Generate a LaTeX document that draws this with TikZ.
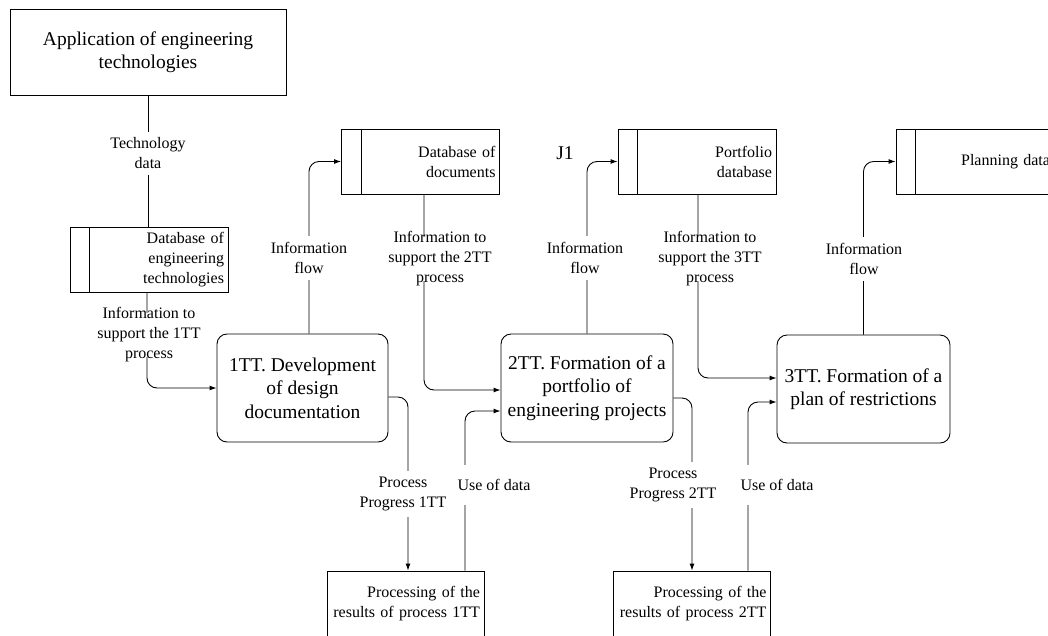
\documentclass[tikz,border=0pt]{standalone}
\usepackage{fontspec}
\setmainfont{Liberation Serif}
\usetikzlibrary{arrows.meta}
\begin{document}
\begin{tikzpicture}[x=1pt,y=-1pt,
  big/.style={font=\fontsize{19.5}{23.5}\selectfont},
  small/.style={font=\fontsize{16}{20}\selectfont},
  plainbox/.style={draw, line width=0.9pt, inner sep=0pt},
  procbox/.style={draw, line width=0.9pt, rounded corners=10pt, inner sep=0pt, align=center, big, minimum height=108pt},
  dbbox/.style={draw, line width=0.9pt, inner sep=0pt, small, align=right, text width=150pt, minimum width=158pt, minimum height=65pt,
    path picture={\draw[line width=0.9pt] ([xshift=19.5pt]path picture bounding box.north west) -- ([xshift=19.5pt]path picture bounding box.south west);}},
  resbox/.style={plainbox, small, align=right, text width=149pt, minimum width=157pt, minimum height=65pt},
  conn/.style={line width=0.9pt, rounded corners=10pt},
  arr/.style={conn, -{Latex[length=7pt,width=5pt]}},
  lab/.style={small, align=center, fill=white, inner xsep=1pt},
  labone/.style={lab, inner ysep=14pt},
  labtwo/.style={lab, inner ysep=6pt},
  labthree/.style={lab, inner ysep=-5pt}
]
\useasboundingbox (0,0) rectangle (1048,635);
\clip (0,0) rectangle (1048,635);

% boxes
\node[plainbox, big, align=center, minimum width=276pt, minimum height=86pt] (app) at (148,52) {Application of engineering\\technologies};
\node[dbbox] (dbtech) at (149,260) {Database of\\engineering\\technologies};
\node[dbbox] (dbdoc) at (420.5,161.5) {Database of\\documents};
\node[dbbox] (dbport) at (697,161.5) {Portfolio\\database};
\node[dbbox] (dbplan) at (975,161.5) {Planning data};
\node[procbox, minimum width=171pt] (p1) at (302.5,388) {1TT. Development\\of design\\documentation};
\node[procbox, minimum width=172pt] (p2) at (587,388) {2TT. Formation of a\\portfolio of\\engineering projects};
\node[procbox, minimum width=173pt] (p3) at (863.5,389) {3TT. Formation of a\\plan of restrictions};
\node[resbox] (r1) at (405.5,603.5) {Processing of the\\results of process 1TT};
\node[resbox] (r2) at (692,603.5) {Processing of the\\results of process 2TT};
\node[big, inner sep=0pt] (j1) at (565,153) {J1};

% connectors
\draw[conn] (app.south) -- (app.south |- dbtech.north);
\draw[arr] ([xshift=-2pt]dbtech.south) |- (p1.west);
\draw[arr] ([xshift=6.5pt]p1.north) |- (dbdoc.west);
\draw[arr] ([xshift=3.5pt]dbdoc.south) |- ([yshift=-2pt]p2.west);
\draw[arr] ([yshift=-9pt]p1.east) -| ([xshift=2.5pt]r1.north);
\draw[arr] ([xshift=59.5pt]r1.north) |- ([yshift=-23pt]p2.west);
\draw[arr] (p2.north) |- (dbport.west);
\draw[arr] ([xshift=1pt]dbport.south) |- ([yshift=11pt]p3.west);
\draw[arr] ([yshift=-10pt]p2.east) -| (r2.north);
\draw[arr] ([xshift=56pt]r2.north) |- ([yshift=-13pt]p3.west);
\draw[arr] (p3.north) |- (dbplan.west);

% labels
\node[labtwo] (lTech) at (148,153.5) {Technology\\data};
\node[labthree] (lSupA) at (149,335) {Information to\\support the 1TT\\process};
\node[labtwo] (lFlowA) at (309,258) {Information\\flow};
\node[labthree] (lSupB) at (440,259) {Information to\\support the 2TT\\process};
\node[labtwo] (lProgA) at (403,494) {Process\\Progress 1TT};
\node[labone] (lUseA) at (494,485) {Use of data};
\node[labtwo] (lFlowB) at (585,258) {Information\\flow};
\node[labthree] (lSupC) at (710,259) {Information to\\support the 3TT\\process};
\node[labtwo] (lProgB) at (673,485) {Process\\Progress 2TT};
\node[labone] (lUseB) at (777,485) {Use of data};
\node[labtwo] (lFlowC) at (864,259) {Information\\flow};
\end{tikzpicture}
\end{document}
